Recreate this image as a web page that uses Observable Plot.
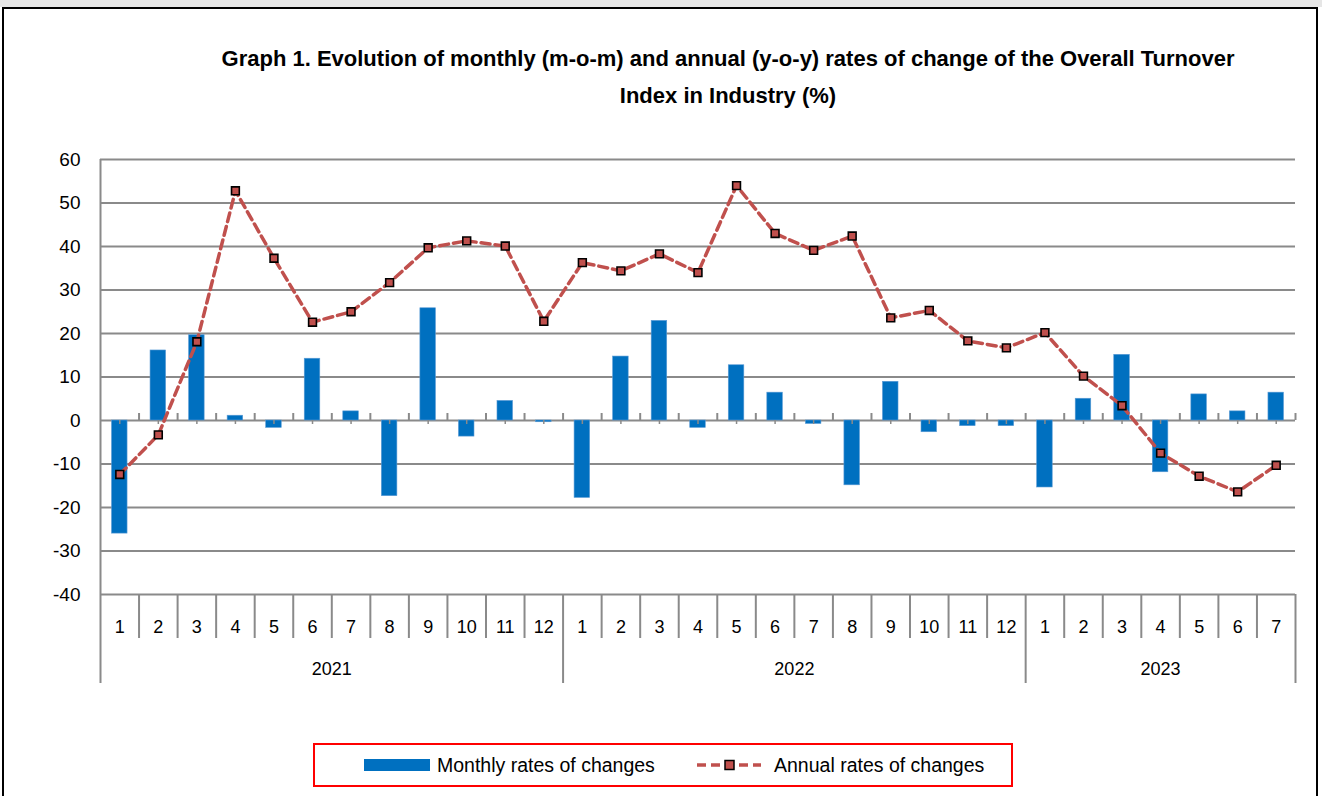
<!DOCTYPE html>
<html>
<head>
<meta charset="utf-8">
<script src="https://cdn.jsdelivr.net/npm/d3@7"></script>
<script src="https://cdn.jsdelivr.net/npm/@observablehq/plot@0.6"></script>
<style>
  body { margin: 0; background: #fff; width: 1322px; height: 796px; overflow: hidden; position: relative; font-family: "Liberation Sans", Arial, sans-serif; }
  #topband { position: absolute; left: 0; top: 0; width: 1322px; height: 7px; background: #e6e6e6; }
  #frame { position: absolute; left: 2px; top: 7px; width: 1316px; height: 800px; border: 2px solid #000; border-bottom: none; box-sizing: border-box; }
  #title { position: absolute; left: 0; top: 40px; width: 1456px; text-align: center; font-family: "Liberation Sans", Arial, sans-serif; font-weight: bold; font-size: 22px; line-height: 37px; color: #000; }
  #chart { position: absolute; left: 0; top: 0; }
  #legend { position: absolute; left: 313px; top: 743px; width: 700px; height: 44px; border: 2px solid #ff0000; box-sizing: border-box; font-size: 19.5px; color: #000; }
  #legend .item { position: absolute; top: 0; height: 40px; display: flex; align-items: center; }
  #legend .sw { display: inline-block; width: 66px; height: 12px; background: #0070C0; margin-right: 7px; }
</style>
</head>
<body>
<div id="topband"></div>
<div id="frame"></div>
<div id="chart"></div>
<div id="title">Graph 1. Evolution of monthly (m-o-m) and annual (y-o-y) rates of change of the Overall Turnover<br>Index in Industry (%)</div>
<div id="legend">
  <div class="item" style="left:49px"><span class="sw"></span><span>Monthly rates of changes</span></div>
  <div class="item" style="left:381px">
    <svg width="66" height="16" style="margin-right:12px">
      <line x1="1" y1="8" x2="65" y2="8" stroke="#C0504D" stroke-width="3.5" stroke-dasharray="9,5"/>
      <rect x="29" y="3.5" width="9" height="9" fill="#C0504D" stroke="#000" stroke-width="1.5"/>
    </svg>
    <span>Annual rates of changes</span>
  </div>
</div>
<script>
// ---- data ----
const yearLabels = ["2021", "2022", "2023"];
const monthsPerYear = [12, 12, 7];
const monthLabels = ["1","2","3","4","5","6","7","8","9","10","11","12",
                     "1","2","3","4","5","6","7","8","9","10","11","12",
                     "1","2","3","4","5","6","7"];
const monthly = [-26.0, 16.1, 19.6, 1.1, -1.7, 14.2, 2.1, -17.4, 25.8, -3.7, 4.5, -0.4,
                 -17.8, 14.7, 22.9, -1.7, 12.7, 6.4, -0.8, -14.9, 8.9, -2.7, -1.3, -1.3,
                 -15.4, 5.0, 15.1, -11.9, 6.0, 2.1, 6.4];
const annual = [-12.4, -3.3, 18.1, 52.8, 37.3, 22.6, 25.0, 31.7, 39.7, 41.3, 40.1, 22.8,
                36.3, 34.4, 38.3, 34.0, 54.0, 43.0, 39.1, 42.4, 23.6, 25.3, 18.3, 16.7,
                20.2, 10.2, 3.4, -7.5, -12.8, -16.4, -10.3];
const yTicks = [-40, -30, -20, -10, 0, 10, 20, 30, 40, 50, 60];

// ---- derived tables ----
const rows = monthLabels.map((m, i) => ({i, month: m, monthly: monthly[i], annual: annual[i]}));
const yearRows = [];
let start = 0;
yearLabels.forEach((y, k) => {
  yearRows.push({year: y, start, end: start + monthsPerYear[k]});
  start += monthsPerYear[k];
});
const n = rows.length;
const yearBounds = [0, ...yearRows.map(d => d.end)];
const monthBounds = d3.range(1, n).filter(b => !yearBounds.includes(b));
const yMin = d3.min(yTicks), yMax = d3.max(yTicks);

const gridColor = "#8a8a8a";

const chart = Plot.plot({
  width: 1322,
  height: 700,
  marginLeft: 100,
  marginRight: 27,
  marginTop: 159,
  marginBottom: 106,
  style: {fontFamily: "'Liberation Sans', Arial, sans-serif", fontSize: "18px", color: "#000", background: "transparent", overflow: "visible"},
  x: {domain: [0, n], axis: null},
  y: {domain: [yMin, yMax], ticks: yTicks, axis: null},
  marks: [
    Plot.gridY(yTicks, {stroke: gridColor, strokeOpacity: 1, strokeWidth: 2}),
    Plot.rectY(rows, {x1: d => d.i, x2: d => d.i + 1, y1: 0, y2: "monthly", fill: "#0070C0", stroke: "#5b9bd5", strokeWidth: 0.6, insetLeft: 11.5, insetRight: 11.5}),
    // zero-line tick marks (category boundaries up, centers down)
    Plot.ruleX(d3.range(1, n + 1), {y1: 0, y2: 0, stroke: gridColor, strokeWidth: 2, insetTop: -7}),
    Plot.ruleX(rows, {x: d => d.i + 0.5, y1: 0, y2: 0, stroke: gridColor, strokeWidth: 1.5, insetBottom: -4}),
    // left axis line
    Plot.ruleX([0], {y1: yMax, y2: yMin, stroke: gridColor, strokeWidth: 2, insetBottom: -89}),
    // category separators
    Plot.ruleX(monthBounds, {y1: yMin, y2: yMin, stroke: gridColor, strokeWidth: 2, insetBottom: -44}),
    Plot.ruleX(yearBounds.slice(1), {y1: yMin, y2: yMin, stroke: gridColor, strokeWidth: 2, insetBottom: -89}),
    // annual line
    Plot.line(rows, {x: d => d.i + 0.5, y: "annual", stroke: "#C0504D", strokeWidth: 3.5, strokeDasharray: "9,5"}),
    Plot.dot(rows, {x: d => d.i + 0.5, y: "annual", symbol: "square", r: 4.4, fill: "#C0504D", stroke: "#000", strokeWidth: 1.6}),
    // y tick labels
    Plot.text(yTicks, {x: 0, y: d => d, text: d => String(d), textAnchor: "end", dx: -20, fontSize: 19}),
    // month labels
    Plot.text(rows, {x: d => d.i + 0.5, y: yMin, text: "month", dy: 33, fontSize: 18}),
    // year labels
    Plot.text(yearRows, {x: d => (d.start + d.end) / 2, y: yMin, text: "year", dy: 75, fontSize: 18})
  ]
});
document.getElementById("chart").appendChild(chart);
</script>
</body>
</html>
